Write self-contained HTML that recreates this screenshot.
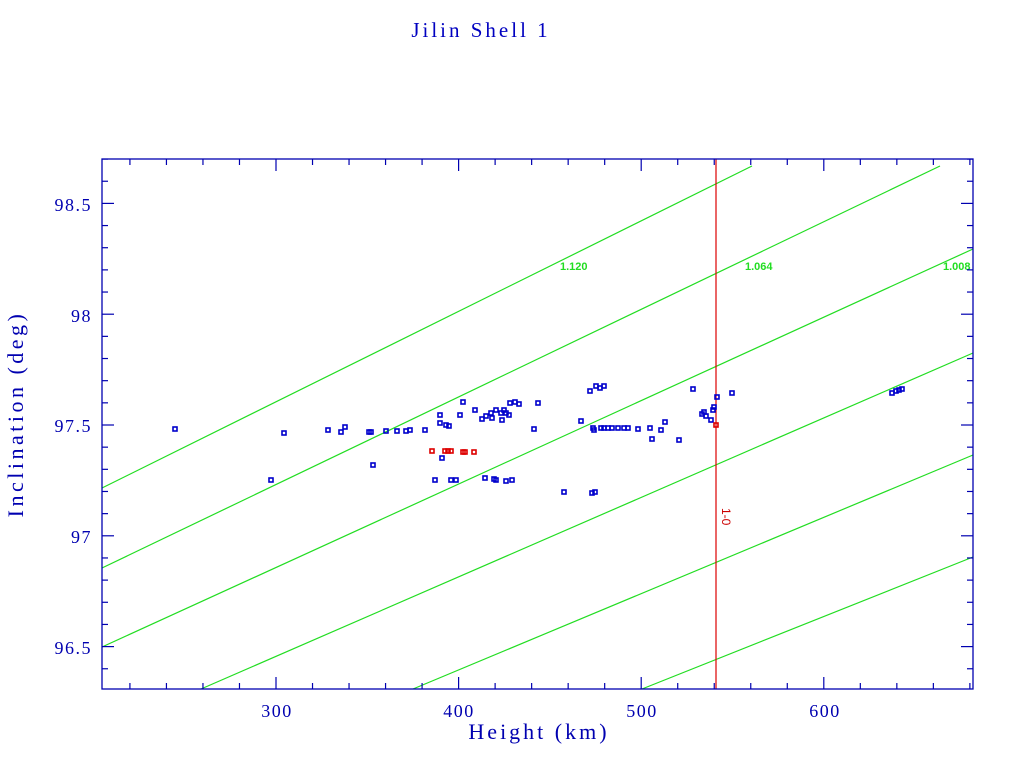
<!DOCTYPE html>
<html><head><meta charset="utf-8"><style>
html,body{margin:0;padding:0;background:#fff;width:1024px;height:768px;overflow:hidden}
</style></head><body>
<svg id="s" width="1024" height="768" xmlns="http://www.w3.org/2000/svg">
<rect x="0" y="0" width="1024" height="768" fill="#fff"/>
<text x="481" y="37" text-anchor="middle" font-family="Liberation Serif, serif" font-size="21" letter-spacing="3" fill="#0000c0">Jilin Shell 1</text>
<g stroke="#22dd22" stroke-width="1.2" fill="none">
<line x1="102" y1="488" x2="752" y2="166"/>
<line x1="102" y1="568" x2="940" y2="166"/>
<line x1="102" y1="647" x2="973" y2="249"/>
<line x1="201" y1="689" x2="973" y2="353"/>
<line x1="413" y1="689" x2="973" y2="455"/>
<line x1="642" y1="689" x2="973" y2="557"/>
</g>
<g font-family="Liberation Sans, sans-serif" font-size="11" font-weight="bold" fill="#22dd22">
<text x="560" y="270">1.120</text>
<text x="745" y="270">1.064</text>
<text x="943" y="270">1.008</text>
</g>
<line x1="716" y1="159" x2="716" y2="689" stroke="#dd0000" stroke-width="1.2"/>
<text transform="translate(722,508) rotate(90)" font-family="Liberation Sans, sans-serif" font-size="12" fill="#cc0000">1-0</text>
<g id="ticks" stroke="#0000b0" stroke-width="1.2"></g>
<rect x="102" y="159" width="871" height="530" fill="none" stroke="#0000b0" stroke-width="1.3"/>
<g id="pts"></g>
<g font-family="Liberation Serif, serif" font-size="18" letter-spacing="1.5" fill="#0000b0">
<text x="277" y="717" text-anchor="middle">300</text>
<text x="459" y="717" text-anchor="middle">400</text>
<text x="642" y="717" text-anchor="middle">500</text>
<text x="825" y="717" text-anchor="middle">600</text>
<text x="92" y="211" text-anchor="end">98.5</text>
<text x="92" y="322" text-anchor="end">98</text>
<text x="92" y="432" text-anchor="end">97.5</text>
<text x="92" y="543" text-anchor="end">97</text>
<text x="92" y="654" text-anchor="end">96.5</text>
</g>
<text x="539" y="739" text-anchor="middle" font-family="Liberation Serif, serif" font-size="22" letter-spacing="3" fill="#0000b0">Height (km)</text>
<text transform="translate(23,414) rotate(-90)" text-anchor="middle" font-family="Liberation Serif, serif" font-size="22" letter-spacing="3.5" fill="#0000b0">Inclination (deg)</text>
</svg>
<script>
var NS="http://www.w3.org/2000/svg";
function el(p,t,a){var e=document.createElementNS(NS,t);for(var k in a)e.setAttribute(k,a[k]);p.appendChild(e);return e;}
var tg=document.getElementById("ticks");
for(var h=220;h<=680;h+=20){var x=276+(h-300)*1.826;var L=(h%100==0)?12:6;
el(tg,"line",{x1:x,y1:689,x2:x,y2:689-L});el(tg,"line",{x1:x,y1:159,x2:x,y2:159+L});}
for(var i=964;i<=987;i++){var v=i/10;var y=425-(v-97.5)*221.6;var L=(i%5==0)?12:6;
el(tg,"line",{x1:102,y1:y,x2:102+L,y2:y});el(tg,"line",{x1:973,y1:y,x2:973-L,y2:y});}
var blue=[[175,429],[271,480],[284,433],[328,430],[341,432],[345,427],[369,432],[371,432],[373,465],[386,431],[397,431],[406,431],[410,430],[425,430],[435,480],[440,415],[440,423],[442,458],[446,425],[449,426],[451,480],[456,480],[460,415],[463,402],[475,410],[482,419],[486,416],[491,413],[492,418],[496,410],[501,413],[502,420],[504,410],[496,480],[506,413],[509,415],[510,403],[515,402],[519,404],[538,403],[485,478],[494,479],[506,481],[512,480],[534,429],[564,492],[581,421],[590,391],[593,428],[594,430],[592,493],[595,492],[596,386],[600,388],[601,428],[604,428],[604,386],[608,428],[612,428],[618,428],[624,428],[628,428],[638,429],[650,428],[652,439],[661,430],[665,422],[679,440],[693,389],[702,414],[704,412],[706,416],[711,420],[713,410],[714,407],[717,397],[732,393],[892,393],[896,391],[899,390],[902,389]];
var red=[[432,451],[445,451],[448,451],[451,451],[463,452],[465,452],[474,452],[716,425]];
var pg=document.getElementById("pts");
blue.forEach(function(p){el(pg,"rect",{x:p[0]-2,y:p[1]-2,width:4,height:4,fill:"none",stroke:"#0000cc","stroke-width":1.6});});
red.forEach(function(p){el(pg,"rect",{x:p[0]-2,y:p[1]-2,width:4,height:4,fill:"none",stroke:"#dd0000","stroke-width":1.6});});
</script>
</body></html>
